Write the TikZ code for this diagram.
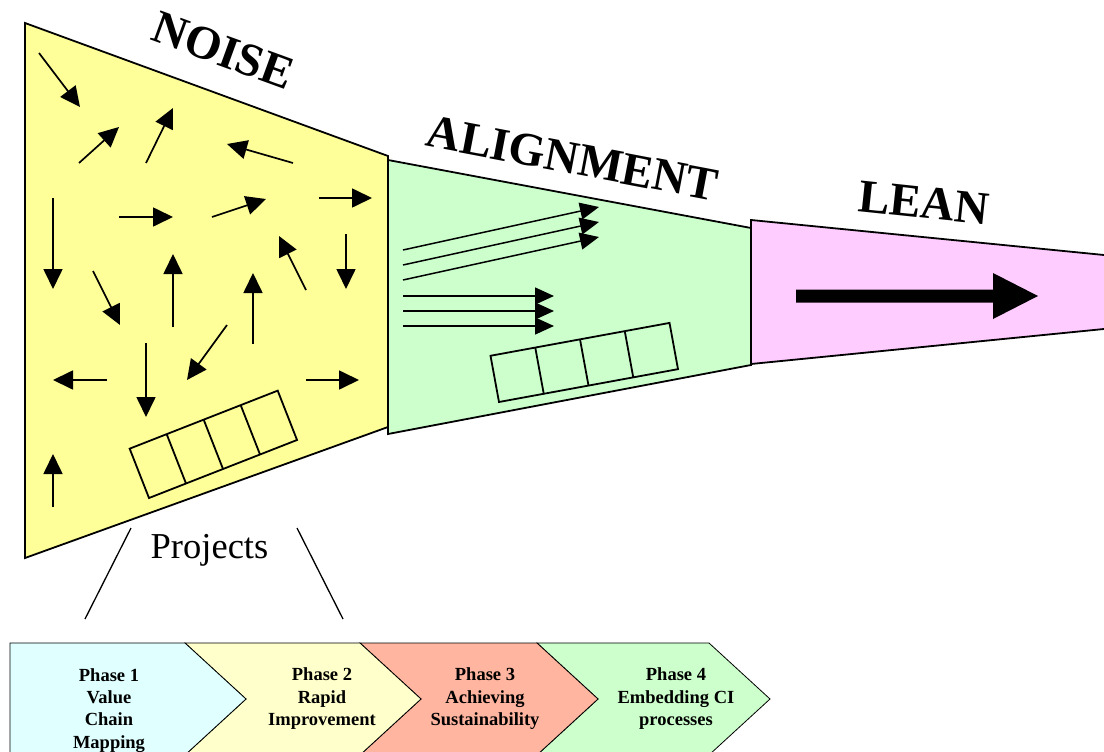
\documentclass[tikz,border=0pt]{standalone}
\usepackage{fontspec}
\setmainfont{Liberation Serif}
\usetikzlibrary{arrows.meta}
\definecolor{noisefill}{RGB}{255,255,153}
\definecolor{alignfill}{RGB}{204,255,204}
\definecolor{leanfill}{RGB}{255,204,255}
\definecolor{phaseA}{RGB}{224,255,255}
\definecolor{phaseB}{RGB}{255,255,204}
\definecolor{phaseC}{RGB}{255,181,160}
\definecolor{phaseD}{RGB}{204,255,204}
\begin{document}
\begin{tikzpicture}[x=1pt,y=-1pt,
  stage/.style={draw=black,line width=1.8pt,line join=miter},
  arr/.style={line width=1.7pt,-{Triangle[length=20pt,width=19pt]}},
  thinarr/.style={line width=1.5pt,-{Triangle[length=19pt,width=17pt]}},
  blockline/.style={draw=black,line width=1.8pt},
  title/.style={font=\fontsize{47}{56}\selectfont\bfseries,inner sep=0pt},
  chev/.style={draw=black,line width=0.8pt,line join=miter},
  phase/.style={font=\fontsize{18.5}{22.3}\selectfont\bfseries,align=center,inner sep=0pt},
  zoomline/.style={line width=1.3pt},
]
\useasboundingbox (0,0) rectangle (1104,752);
\clip (0,0) rectangle (1104,752);

% the three stages of the funnel
\filldraw[stage,fill=noisefill] (25,23) -- (388,156) -- (388,427) -- (25,558) -- cycle;
\filldraw[stage,fill=alignfill] (388,160) -- (751,228) -- (751,365) -- (388,434) -- cycle;
\filldraw[stage,fill=leanfill] (751,220) -- (1110,255.6) -- (1110,328.4) -- (751,364) -- cycle;

% stage titles
\node[title,rotate=-20] (noise) at (223.5,50.5) {NOISE};
\node[title,rotate=-10.8] (alignment) at (572.5,158.5) {ALIGNMENT};
\node[title,rotate=-6] (lean) at (924,202.5) {LEAN};

% random directions in the noise stage
\foreach \a/\b/\c/\d in {39/53/80/107, 79/163/119/127, 146/163/173/108,
    293/163/227/144, 53/198/53/289, 119/217/173/217, 212/217/266/199,
    319/198/372/198, 306/290/279/236, 346/234/346/289, 173/327/173/254,
    253/344/253/273, 93/271/120/325, 227/325/187/380, 146/343/146/417,
    107/380/53/380, 306/380/359/380, 53/507/53/454}
  \draw[arr] (\a,\b) -- (\c,\d);

% project blocks
\begin{scope}[shift={(149,498)},rotate=21.4]
  \draw[blockline] (0,0) rectangle (159,-53);
  \foreach \i in {1,2,3} \draw[blockline] (\i*39.75,0) -- (\i*39.75,-53);
\end{scope}
\begin{scope}[shift={(499,402)},rotate=10.4]
  \draw[blockline] (0,0) rectangle (182,-47);
  \foreach \i in {1,2,3} \draw[blockline] (\i*45.5,0) -- (\i*45.5,-47);
\end{scope}

% aligned directions
\draw[thinarr] (403,250) -- (599,207);
\draw[thinarr] (403,265) -- (599,222);
\draw[thinarr] (403,280) -- (599,237);
\draw[thinarr] (403,296) -- (554,296);
\draw[thinarr] (403,311) -- (554,311);
\draw[thinarr] (403,326) -- (554,326);

% single lean direction
\fill[black] (796,289.5) -- (993,289.5) -- (993,273) -- (1038,296) -- (993,319) -- (993,302.5) -- (796,302.5) -- cycle;

% projects label and its expansion lines
\node[font=\fontsize{36.5}{44}\selectfont,inner sep=0pt,anchor=base] (projects) at (209.5,558) {Projects};
\coordinate (zl1) at (131,528);
\coordinate (zl2) at (85,619);
\coordinate (zr1) at (297,528);
\coordinate (zr2) at (343,619);
\draw[zoomline] (zl1) -- (zl2);
\draw[zoomline] (zr1) -- (zr2);

% project phases
\filldraw[chev,fill=phaseD] (537,643) -- (709,643) -- (770,699) -- (709,755) -- (537,755) -- (598,699) -- cycle;
\filldraw[chev,fill=phaseC] (360,643) -- (537,643) -- (598,699) -- (537,755) -- (360,755) -- (421,699) -- cycle;
\filldraw[chev,fill=phaseB] (185,643) -- (360,643) -- (421,699) -- (360,755) -- (185,755) -- (246,699) -- cycle;
\filldraw[chev,fill=phaseA] (10,643) -- (185,643) -- (246,699) -- (185,755) -- (10,755) -- cycle;

\node[phase] (p1) at (109,710.2) {Phase 1\\Value\\Chain\\Mapping};
\node[phase] (p2) at (322,698.7) {Phase 2\\Rapid\\Improvement};
\node[phase] (p3) at (485,698.7) {Phase 3\\Achieving\\Sustainability};
\node[phase] (p4) at (676,698.7) {Phase 4\\Embedding CI\\processes};
\end{tikzpicture}
\end{document}
